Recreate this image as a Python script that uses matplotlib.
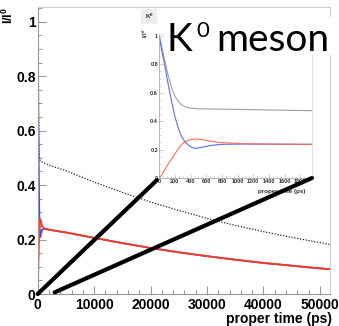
import matplotlib
matplotlib.use('Agg')
import matplotlib.pyplot as plt
from matplotlib.patches import ConnectionPatch, Rectangle
from matplotlib.ticker import MultipleLocator, FuncFormatter

plt.rcParams['font.family'] = ['Liberation Sans', 'DejaVu Sans']
plt.rcParams['mathtext.fontset'] = 'custom'
plt.rcParams['mathtext.rm'] = 'Liberation Sans'
plt.rcParams['mathtext.bf'] = 'Liberation Sans:bold'

# early times (ps)
t_short = [0, 30, 73, 115, 158, 200, 243, 285, 327, 370, 413, 455, 497, 540,
           582, 667, 795, 1092, 1500, 1950]
total_short = [1.0, 0.93, 0.82, 0.72, 0.635, 0.575, 0.54, 0.515, 0.503, 0.495,
               0.491, 0.489, 0.488, 0.487, 0.487, 0.486, 0.485, 0.482, 0.478, 0.474]
k0_short = [1.0, 0.90, 0.784, 0.655, 0.537, 0.432, 0.35, 0.291, 0.256, 0.232,
            0.216, 0.209, 0.211, 0.216, 0.221, 0.230, 0.237, 0.239, 0.238, 0.237]
k0bar_short = [0.0, 0.02, 0.06, 0.10, 0.135, 0.17, 0.205, 0.235, 0.255, 0.266,
               0.272, 0.275, 0.274, 0.271, 0.267, 0.258, 0.249, 0.241, 0.238, 0.237]

# long times (ps)
t_long = [2000, 5000, 10000, 15000, 20000, 25000, 30000, 35000, 40000, 45000,
          50000, 52000]
total_long = [0.473, 0.453, 0.411, 0.373, 0.338, 0.307, 0.278, 0.252, 0.229,
              0.208, 0.189, 0.181]
k0bar_long = [0.236, 0.226, 0.206, 0.187, 0.169, 0.153, 0.139, 0.126, 0.114,
              0.104, 0.094, 0.091]
k0_long = [0.236, 0.226, 0.206, 0.187, 0.169, 0.153, 0.139, 0.126, 0.114,
           0.104, 0.094, 0.091]

t_all = t_short + t_long
total_all = total_short + total_long
k0_all = k0_short + k0_long
k0bar_all = k0bar_short + k0bar_long

W, H = 339, 326


def fx(px):
    return px / W


def fy(py):
    return 1 - py / H


fmt = FuncFormatter(lambda v, p: '%g' % round(v, 6))

fig = plt.figure(figsize=(W / 100, H / 100), dpi=100)

# main plot
ax = fig.add_axes([fx(37.7), fy(294), (330 - 37.7) / W, (294 - 7) / H])
ax.plot(t_all, total_all, color='#222222', lw=0.9, ls=(0, (1, 1.3)))
ax.plot(t_all, k0_all, color='#3a4ef5', lw=1.3)
ax.plot(t_all, k0bar_all, color='#ff3a1a', lw=1.3)
ax.set_xlim(0, 51800)
ax.set_ylim(0, 1.054)
ax.xaxis.set_major_locator(MultipleLocator(10000))
ax.xaxis.set_minor_locator(MultipleLocator(2000))
ax.yaxis.set_major_locator(MultipleLocator(0.2))
ax.yaxis.set_minor_locator(MultipleLocator(0.05))
ax.xaxis.set_major_formatter(fmt)
ax.yaxis.set_major_formatter(fmt)
ax.tick_params(which='both', direction='in', color='#999999', width=0.8)
ax.tick_params(which='major', length=6)
ax.tick_params(which='minor', length=3)
ax.tick_params(axis='y', pad=1.5)
ax.tick_params(axis='x', pad=3)
for lab in ax.get_xticklabels() + ax.get_yticklabels():
    lab.set_fontsize(10)
    lab.set_fontweight('bold')
for s in ['left', 'bottom']:
    ax.spines[s].set_color('#999999')
for s in ['top', 'right']:
    ax.spines[s].set_color('#d0d0d0')

fig.text(fx(332), fy(319.5), 'proper time (ps)', ha='right', va='center',
         fontsize=10, fontweight='bold')
fig.text(fx(8), fy(15), r'I/I$^{\mathbf{0}}$', rotation=90, ha='center',
         va='center', fontsize=9, fontweight='bold')

# inset
axin = fig.add_axes([fx(159.3), fy(178), (312 - 159.3) / W, (178 - 34) / H])
axin.plot(t_short, total_short, color='#a0a0a0', lw=0.8)
axin.plot(t_short, k0_short, color='#5a6cf5', lw=0.8)
axin.plot(t_short, k0bar_short, color='#ff6a55', lw=0.8)
axin.set_xlim(0, 1950)
axin.set_ylim(0, 1.014)
axin.xaxis.set_major_locator(MultipleLocator(200))
axin.xaxis.set_minor_locator(MultipleLocator(50))
axin.yaxis.set_major_locator(MultipleLocator(0.2))
axin.yaxis.set_minor_locator(MultipleLocator(0.05))
axin.xaxis.set_major_formatter(fmt)
axin.yaxis.set_major_formatter(fmt)
axin.tick_params(which='both', direction='in', color='#bbbbbb', width=0.5,
                 labelsize=4, pad=1)
axin.tick_params(which='major', length=3)
axin.tick_params(which='minor', length=1.5)
for lab in axin.get_xticklabels() + axin.get_yticklabels():
    lab.set_fontweight('bold')
    lab.set_color('#333333')
for s in ['left', 'bottom']:
    axin.spines[s].set_color('#aaaaaa')
for s in ['top', 'right']:
    axin.spines[s].set_color('#dddddd')
for s in axin.spines.values():
    s.set_linewidth(0.6)

fig.text(fx(305), fy(192), 'proper time (ps)', ha='right', va='center',
         fontsize=4.5, fontweight='bold', color='#333333')
fig.text(fx(145), fy(33), r'I/I$^{\mathbf{0}}$', rotation=90, ha='center',
         va='center', fontsize=4.5, fontweight='bold', color='#333333')
fig.text(fx(149), fy(16.5), r'K$^{\mathbf{0}}$', ha='center', va='center',
         fontsize=4.5, fontweight='bold', color='#222222',
         bbox=dict(facecolor='#eeeeee', edgecolor='none',
                   boxstyle='square,pad=0.5'))

# zoom connector lines
lineA = ConnectionPatch(xyA=(0, 0), coordsA=ax.transData,
                        xyB=(-0.015, -0.014), coordsB=axin.transAxes,
                        color='black', lw=3, capstyle='round', zorder=4)
lineB = ConnectionPatch(xyA=(3000, 0.006), coordsA=ax.transData,
                        xyB=(1.0, 0.0), coordsB=axin.transAxes,
                        color='black', lw=3, capstyle='round', zorder=4)
fig.add_artist(lineA)
fig.add_artist(lineB)

# title box
fig.add_artist(Rectangle((fx(165), fy(55)), (339 - 165) / W, (55 - 17) / H,
                         transform=fig.transFigure, facecolor='white',
                         edgecolor='none', zorder=5))
fig.text(fx(167), fy(51), 'K', fontsize=28, family='Lato', va='baseline',
         zorder=6)
fig.text(fx(196), fy(37), '0', fontsize=16, family='Lato', va='baseline',
         zorder=6)
fig.text(fx(216), fy(51), 'meson', fontsize=28, family='Lato', va='baseline',
         zorder=6)

fig.savefig('out.png', dpi=100)
